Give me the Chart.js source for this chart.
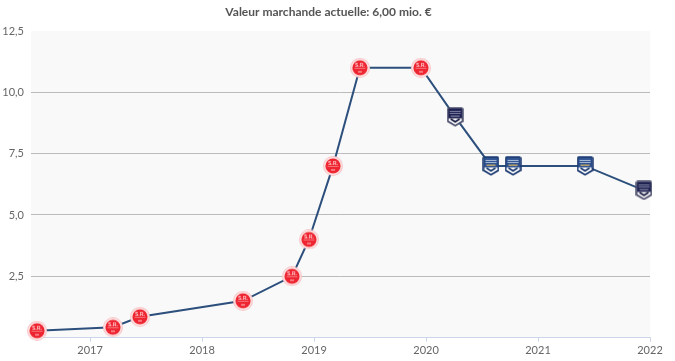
<!DOCTYPE html>
<html>
<head>
<meta charset="utf-8">
<title>Valeur marchande</title>
<style>
  html, body { margin: 0; padding: 0; background: #fff; }
  canvas { display: block; }
</style>
<script src="https://cdn.jsdelivr.net/npm/chart.js@4"></script>
</head>
<body>
<canvas id="chartContainer" width="675" height="361"></canvas>
<script>
const titleText = 'Valeur marchande actuelle: 6,00 mio. €';
const dates = [2016.527, 2017.205, 2017.446, 2018.366, 2018.804, 2018.955, 2019.17, 2019.41, 2019.955, 2020.26, 2020.58, 2020.777, 2021.42, 2021.946];
const values = [0.28, 0.42, 0.85, 1.5, 2.5, 4, 7, 11, 11, 9, 7, 7, 7, 6];
const clubs = ['reims', 'reims', 'reims', 'reims', 'reims', 'reims', 'reims', 'reims', 'reims', 'bordeauxDark', 'bordeaux', 'bordeaux', 'bordeaux', 'bordeauxDark'];
const yearTicks = [2017, 2018, 2019, 2020, 2021, 2022];
const valueTicks = [2.5, 5, 7.5, 10, 12.5];

const FONT = 'Lato, "Noto Sans", sans-serif';

// little club crests, used as point styles
function reimsCrest() {
  const c = document.createElement('canvas');
  c.width = 20; c.height = 20;
  const g = c.getContext('2d');
  g.fillStyle = '#f9c6c8';
  g.beginPath(); g.arc(10, 10, 10, 0, Math.PI * 2); g.fill();
  g.fillStyle = '#fde6e6';
  g.beginPath(); g.arc(10, 10, 8.9, 0, Math.PI * 2); g.fill();
  g.fillStyle = '#ee2430';
  g.beginPath(); g.arc(10, 10, 7.6, 0, Math.PI * 2); g.fill();
  g.fillStyle = '#ffc9cb';
  g.font = 'bold 6px ' + FONT;
  g.textAlign = 'center';
  g.fillText('S.R.', 10, 9);
  g.fillStyle = '#f6777d';
  g.fillRect(4.5, 10, 11, 1);
  g.fillRect(8, 13, 4, 2);
  return c;
}

function shieldPath(g, w, h) {
  g.beginPath();
  g.moveTo(2, 1);
  g.lineTo(w - 2, 1);
  g.lineTo(w - 1, 2);
  g.lineTo(w - 1, h - 5.5);
  g.lineTo(w / 2, h - 1);
  g.lineTo(1, h - 5.5);
  g.lineTo(1, 2);
  g.closePath();
}

function bordeauxCrest(dark) {
  const w = 17, h = 20;
  const c = document.createElement('canvas');
  c.width = w; c.height = h;
  const g = c.getContext('2d');
  const navy = dark ? '#15173c' : '#1c3a70';
  shieldPath(g, w, h);
  g.fillStyle = dark ? '#1d2050' : '#2f5391';
  g.fill();
  // row of pale letters across the top
  g.fillStyle = dark ? '#7d80a0' : '#a8bbd8';
  g.fillRect(3, 4, w - 6, 1);
  g.fillRect(3, 6, w - 6, 1);
  g.fillStyle = dark ? '#6e7190' : '#b9a26a';
  g.fillRect(4, 8.5, w - 8, 1.5);
  // white chevron at the foot of the shield
  g.fillStyle = '#fff';
  g.beginPath();
  g.moveTo(2, 11.5); g.lineTo(w - 2, 11.5); g.lineTo(w - 2, 14); g.lineTo(w / 2, 18); g.lineTo(2, 14);
  g.closePath();
  g.fill();
  g.strokeStyle = navy;
  g.lineWidth = 1.8;
  g.beginPath();
  g.moveTo(4, 12); g.lineTo(w / 2, 15); g.lineTo(w - 4, 12);
  g.stroke();
  shieldPath(g, w, h);
  g.lineWidth = 1.5;
  g.strokeStyle = dark ? '#50536f' : navy;
  g.stroke();
  return c;
}

const crests = {
  reims: reimsCrest(),
  bordeaux: bordeauxCrest(false),
  bordeauxDark: bordeauxCrest(true)
};

const plotBackground = {
  id: 'plotBackground',
  beforeDraw(chart) {
    const a = chart.chartArea;
    chart.ctx.save();
    chart.ctx.fillStyle = '#f9f9f9';
    chart.ctx.fillRect(a.left, a.top, a.width, a.height);
    chart.ctx.restore();
  }
};

// title sits a little right of the padded chart centre
const titleShift = {
  id: 'titleShift',
  afterLayout(chart) {
    chart.titleBlock.left = 7;
  }
};

new Chart(document.getElementById('chartContainer'), {
  type: 'line',
  data: {
    datasets: [{
      data: dates.map((d, i) => ({ x: d, y: values[i] })),
      borderColor: '#2c4f7c',
      borderWidth: 2,
      tension: 0,
      fill: false,
      clip: false,
      pointStyle: clubs.map(k => crests[k]),
      pointRadius: 10
    }]
  },
  options: {
    responsive: false,
    animation: false,
    layout: { padding: { left: 0, right: 25, top: 0, bottom: 0 } },
    plugins: {
      legend: { display: false },
      tooltip: { enabled: false },
      title: {
        display: true,
        text: titleText,
        color: '#555',
        font: { family: FONT, size: 12, weight: 'bold' },
        padding: { top: 5, bottom: 11.6 }
      }
    },
    scales: {
      x: {
        type: 'linear',
        min: 2016.473,
        max: 2022,
        afterFit: s => { s.height = 23.4; },
        afterBuildTicks: s => { s.ticks = yearTicks.map(v => ({ value: v })); },
        border: { color: '#ccd6eb' },
        grid: { drawOnChartArea: false, tickColor: '#ccd6eb', tickLength: 4 },
        ticks: {
          color: '#666',
          font: { family: FONT, size: 11 },
          padding: 2,
          maxRotation: 0,
          callback: v => String(v)
        }
      },
      y: {
        min: 0,
        max: 12.5,
        afterFit: s => { s.width = 31; },
        afterBuildTicks: s => { s.ticks = valueTicks.map(v => ({ value: v })); },
        border: { display: false },
        grid: {
          drawTicks: false,
          color: c => (c.tick.value === 12.5 ? 'transparent' : '#bbb')
        },
        ticks: {
          color: '#666',
          font: { family: FONT, size: 11 },
          padding: 7,
          callback: v => v.toFixed(1).replace('.', ',')
        }
      }
    }
  },
  plugins: [plotBackground, titleShift]
});
</script>
</body>
</html>
